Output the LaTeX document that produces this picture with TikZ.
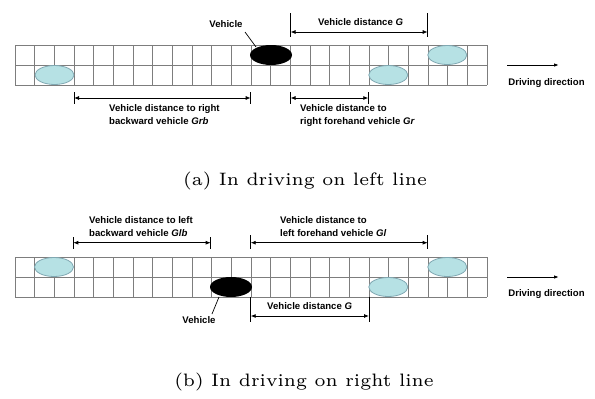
\documentclass[tikz,border=0pt]{standalone}
\usepackage{fontspec}
\newfontfamily\lblfont{Liberation Sans}
\usetikzlibrary{shapes.geometric,arrows.meta}
\definecolor{carfill}{RGB}{182,225,228}
\definecolor{carline}{RGB}{128,168,178}
\definecolor{gridc}{RGB}{125,125,125}
\tikzset{
  car/.style={ellipse,draw=carline,fill=carfill,line width=0.8pt,minimum width=39pt,minimum height=19pt,inner sep=0pt},
  egocar/.style={ellipse,fill=black,minimum width=42pt,minimum height=20pt,inner sep=0pt},
  lbl/.style={font=\lblfont\bfseries\fontsize{9.6}{13}\selectfont,inner sep=0pt,align=left},
  dimtick/.style={line width=0.7pt},
  dimline/.style={line width=0.8pt,{Latex[length=5pt,width=4pt]}-{Latex[length=5pt,width=4pt]}},
  dirarrow/.style={line width=1pt,-{Latex[length=5pt,width=3.5pt]}},
  captext/.style={font=\fontsize{6}{7}\selectfont,scale=3.0,inner sep=0pt},
  gridline/.style={draw=gridc,line width=0.6pt}
}
\begin{document}
\begin{tikzpicture}[x=1pt,y=-1pt]
\useasboundingbox (0,0) rectangle (595,399);
% ---------- panel (a) ----------
\foreach \k in {0,...,24} \draw[gridline] ({15+\k*19.667},45) -- ({15+\k*19.667},85);
\foreach \y in {45,65,85} \draw[gridline] (15,\y) -- (487,\y);
\node[car] (a1) at (54.5,75) {};
\node[car] (a2) at (388.3,75) {};
\node[car] (a3) at (447.3,55) {};
\node[egocar] (av) at (271,55) {};
\node[lbl] (avl) at (226,24) {Vehicle};
\coordinate (avl1) at (245,32);
\coordinate (avl2) at (256,47);
\draw[line width=0.7pt] (avl1) -- (avl2);
% distance G
\coordinate (g1t) at (290.5,13); \coordinate (g1b) at (290.5,37);
\coordinate (g2t) at (427.7,13); \coordinate (g2b) at (427.7,37);
\draw[dimtick] (g1t) -- (g1b); \draw[dimtick] (g2t) -- (g2b);
\coordinate (g1) at (290.5,32); \coordinate (g2) at (427.7,32);
\draw[dimline] (g1) -- (g2);
\node[lbl,anchor=west] (gl) at (318,22) {Vehicle distance \textit{G}};
% right backward
\coordinate (rb1t) at (74,92); \coordinate (rb1b) at (74,104);
\coordinate (rb2t) at (250.7,92); \coordinate (rb2b) at (250.7,104);
\draw[dimtick] (rb1t) -- (rb1b); \draw[dimtick] (rb2t) -- (rb2b);
\coordinate (rb1) at (74,98); \coordinate (rb2) at (250.7,98);
\draw[dimline] (rb1) -- (rb2);
\node[lbl,anchor=north west] (rbl) at (109,104) {Vehicle distance to right\\backward vehicle \textit{Grb}};
% right forehand
\coordinate (rf1t) at (290.5,92); \coordinate (rf1b) at (290.5,104);
\coordinate (rf2t) at (368.3,92); \coordinate (rf2b) at (368.3,104);
\draw[dimtick] (rf1t) -- (rf1b); \draw[dimtick] (rf2t) -- (rf2b);
\coordinate (rf1) at (290.5,98); \coordinate (rf2) at (368.3,98);
\draw[dimline] (rf1) -- (rf2);
\node[lbl,anchor=north west] (rfl) at (300,104) {Vehicle distance to\\right forehand vehicle \textit{Gr}};
% driving direction
\coordinate (da1) at (507,65); \coordinate (da2) at (559,65);
\draw[dirarrow] (da1) -- (da2);
\node[lbl] (dal) at (546.5,83) {Driving direction};
% caption
\node[captext] (capa) at (305,181) {(a) In driving on left line};
% ---------- panel (b) ----------
\foreach \k in {0,...,24} \draw[gridline] ({15+\k*19.667},257) -- ({15+\k*19.667},297);
\foreach \y in {257,277,297} \draw[gridline] (15,\y) -- (487,\y);
\node[car] (b1) at (54,267) {};
\node[car] (b2) at (388.3,287) {};
\node[car] (b3) at (447.3,267) {};
\node[egocar] (bv) at (231,287) {};
\node[lbl] (bvl) at (199,320) {Vehicle};
\coordinate (bvl1) at (219,297);
\coordinate (bvl2) at (212,314);
\draw[line width=0.7pt] (bvl1) -- (bvl2);
% left backward
\coordinate (lb1t) at (73.3,237); \coordinate (lb1b) at (73.3,249);
\coordinate (lb2t) at (210.7,237); \coordinate (lb2b) at (210.7,249);
\draw[dimtick] (lb1t) -- (lb1b); \draw[dimtick] (lb2t) -- (lb2b);
\coordinate (lb1) at (73.3,242.7); \coordinate (lb2) at (210.7,242.7);
\draw[dimline] (lb1) -- (lb2);
\node[lbl,anchor=south west] (lbl) at (89,237) {Vehicle distance to left\\backward vehicle \textit{Glb}};
% left forehand
\coordinate (lf1t) at (250.7,235); \coordinate (lf1b) at (250.7,249);
\coordinate (lf2t) at (427.7,235); \coordinate (lf2b) at (427.7,249);
\draw[dimtick] (lf1t) -- (lf1b); \draw[dimtick] (lf2t) -- (lf2b);
\coordinate (lf1) at (250.7,242.7); \coordinate (lf2) at (427.7,242.7);
\draw[dimline] (lf1) -- (lf2);
\node[lbl,anchor=south west] (lfl) at (280,237) {Vehicle distance to\\left forehand vehicle \textit{Gl}};
% distance G
\coordinate (h1t) at (250.7,297); \coordinate (h1b) at (250.7,322);
\coordinate (h2t) at (369,297); \coordinate (h2b) at (369,322);
\draw[dimtick] (h1t) -- (h1b); \draw[dimtick] (h2t) -- (h2b);
\coordinate (h1) at (250.7,316); \coordinate (h2) at (369,316);
\draw[dimline] (h1) -- (h2);
\node[lbl,anchor=west] (hl) at (267,306) {Vehicle distance \textit{G}};
% driving direction
\coordinate (db1) at (507,277); \coordinate (db2) at (559,277);
\draw[dirarrow] (db1) -- (db2);
\node[lbl] (dbl) at (546.5,294.5) {Driving direction};
% caption
\node[captext] (capb) at (304,382) {(b) In driving on right line};
\end{tikzpicture}
\end{document}
